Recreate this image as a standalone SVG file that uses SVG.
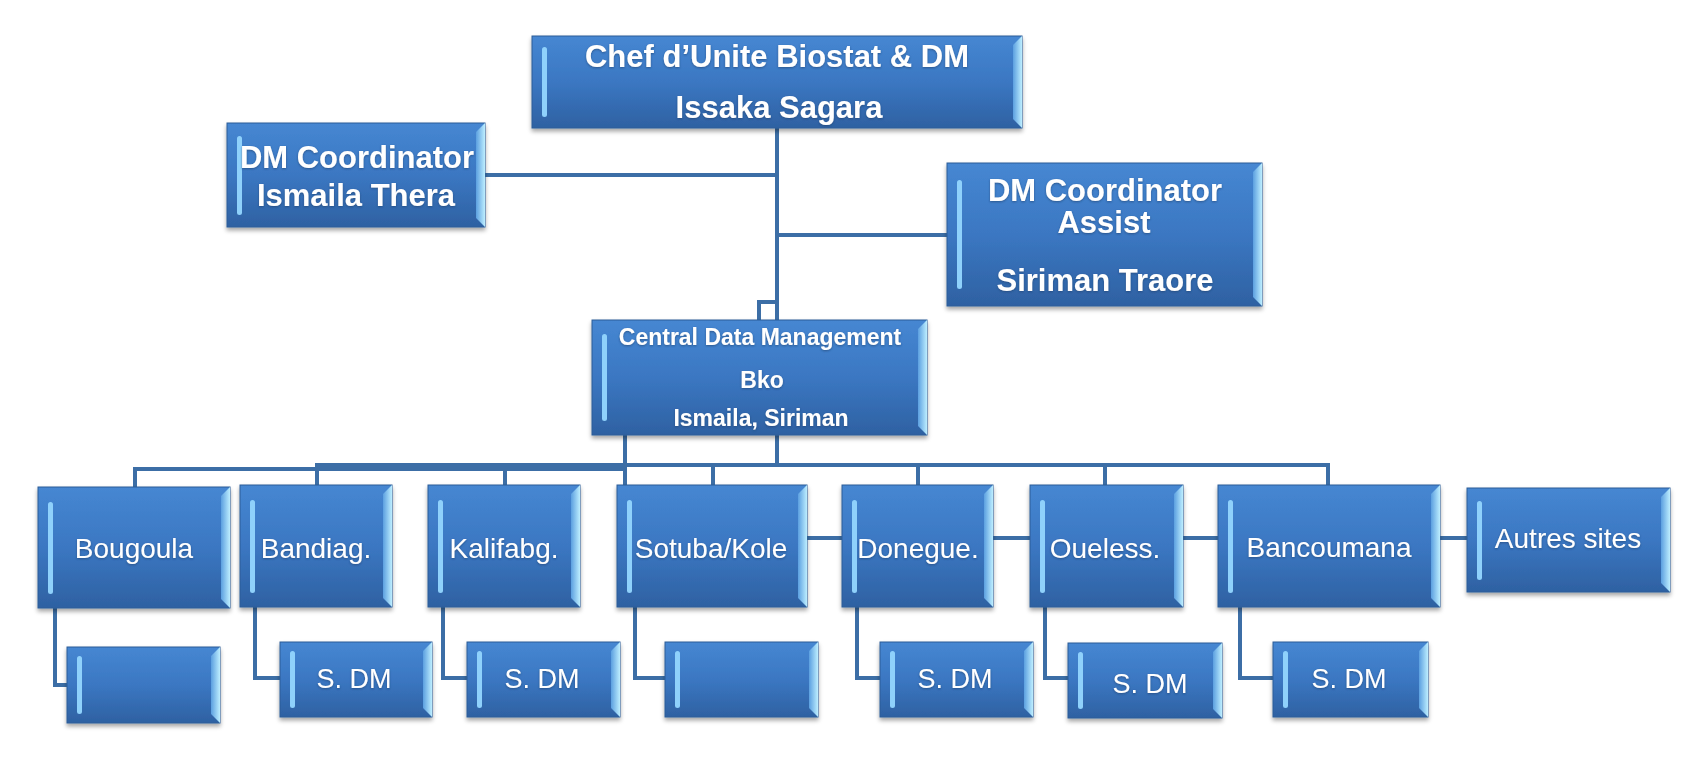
<svg xmlns="http://www.w3.org/2000/svg" width="1702" height="762" viewBox="0 0 1702 762">
<defs>
<linearGradient id="fill" x1="0" y1="0" x2="0" y2="1">
<stop offset="0" stop-color="#4687d2"/>
<stop offset="0.5" stop-color="#3b77c2"/>
<stop offset="1" stop-color="#2e61a2"/>
</linearGradient>
<linearGradient id="bev" x1="0" y1="0" x2="1" y2="0">
<stop offset="0" stop-color="#5b9fe0"/>
<stop offset="1" stop-color="#bdeeff"/>
</linearGradient>
<filter id="sh" x="-10%" y="-10%" width="120%" height="130%">
<feDropShadow dx="0" dy="3" stdDeviation="2" flood-color="#000" flood-opacity="0.35"/>
</filter>
<filter id="tsh" x="-10%" y="-20%" width="120%" height="140%">
<feDropShadow dx="0" dy="1" stdDeviation="1" flood-color="#1a3a66" flood-opacity="0.6"/>
</filter>
</defs>
<style>
.box{fill:url(#fill);stroke:#2d5c98;stroke-width:1;filter:url(#sh)}
.hl{fill:#8fd1fb}
.bv{fill:url(#bev)}
.t{fill:#ffffff;font-family:"Liberation Sans",Arial,sans-serif;text-anchor:middle;dominant-baseline:central;filter:url(#tsh)}
.t1{font-size:31px;font-weight:bold}
.t2{font-size:23px;font-weight:bold}
.t3{font-size:28px}
.t4{font-size:27px}
.c{fill:none;stroke:#3c6ea6;stroke-width:4}
</style>
<rect width="1702" height="762" fill="#ffffff"/>

<g id="connectors">
<path class="c" d="M777 128 V320"/>
<path class="c" d="M485 175 H777"/>
<path class="c" d="M777 235 H947"/>
<path class="c" d="M777 302 H759 V320"/>
<path class="c" d="M625 435 V485"/>
<path class="c" d="M777 435 V465"/>
<path class="c" d="M135 487 V469 H625"/>
<path class="c" d="M317 485 V465 H1328 V485"/>
<path class="c" d="M505 465 V485"/>
<path class="c" d="M713 465 V485"/>
<path class="c" d="M918 465 V485"/>
<path class="c" d="M1105 465 V485"/>
<path class="c" d="M807 538 H842"/>
<path class="c" d="M993 538 H1030"/>
<path class="c" d="M1183 538 H1218"/>
<path class="c" d="M1440 538 H1467"/>
<path class="c" d="M55 608 V685 H67"/>
<path class="c" d="M255 607 V678 H280"/>
<path class="c" d="M443 607 V678 H467"/>
<path class="c" d="M635 607 V678 H665"/>
<path class="c" d="M857 607 V678 H880"/>
<path class="c" d="M1045 607 V678 H1068"/>
<path class="c" d="M1240 607 V678 H1273"/>
</g>

<g id="node-chef">
<rect class="box" x="532" y="36" width="490" height="92"/>
<rect class="hl" x="542" y="47" width="5" height="70" rx="2.5"/>
<polygon class="bv" points="1013,45 1022,36 1022,128 1013,119"/>
<text class="t t1" x="777" y="56">Chef d’Unite Biostat &amp; DM</text>
<text class="t t1" x="779" y="107">Issaka Sagara</text>
</g>

<g id="node-coord">
<rect class="box" x="227" y="123" width="258" height="104"/>
<rect class="hl" x="237" y="136" width="5" height="79" rx="2.5"/>
<polygon class="bv" points="476,132 485,123 485,227 476,218"/>
<text class="t t1" x="357" y="157">DM Coordinator</text>
<text class="t t1" x="356" y="195">Ismaila Thera</text>
</g>

<g id="node-assist">
<rect class="box" x="947" y="163" width="315" height="143"/>
<rect class="hl" x="957" y="180" width="5" height="109" rx="2.5"/>
<polygon class="bv" points="1253,172 1262,163 1262,306 1253,297"/>
<text class="t t1" x="1105" y="190">DM Coordinator</text>
<text class="t t1" x="1104" y="222">Assist</text>
<text class="t t1" x="1105" y="280">Siriman Traore</text>
</g>

<g id="node-central">
<rect class="box" x="592" y="320" width="335" height="115"/>
<rect class="hl" x="602" y="334" width="5" height="87" rx="2.5"/>
<polygon class="bv" points="918,329 927,320 927,435 918,426"/>
<text class="t t2" x="760" y="337">Central Data Management</text>
<text class="t t2" x="762" y="380">Bko</text>
<text class="t t2" x="761" y="418">Ismaila, Siriman</text>
</g>

<g id="node-bougoula">
<rect class="box" x="38" y="487" width="192" height="121"/>
<rect class="hl" x="48" y="502" width="5" height="92" rx="2.5"/>
<polygon class="bv" points="221,496 230,487 230,608 221,599"/>
<text class="t t3" x="134" y="548">Bougoula</text>
</g>

<g id="node-bandiag">
<rect class="box" x="240" y="485" width="152" height="122"/>
<rect class="hl" x="250" y="500" width="5" height="93" rx="2.5"/>
<polygon class="bv" points="383,494 392,485 392,607 383,598"/>
<text class="t t3" x="316" y="548">Bandiag.</text>
</g>

<g id="node-kalifabg">
<rect class="box" x="428" y="485" width="152" height="122"/>
<rect class="hl" x="438" y="500" width="5" height="93" rx="2.5"/>
<polygon class="bv" points="571,494 580,485 580,607 571,598"/>
<text class="t t3" x="504" y="548">Kalifabg.</text>
</g>

<g id="node-sotuba">
<rect class="box" x="617" y="485" width="190" height="122"/>
<rect class="hl" x="627" y="500" width="5" height="93" rx="2.5"/>
<polygon class="bv" points="798,494 807,485 807,607 798,598"/>
<text class="t t3" x="711" y="548">Sotuba/Kole</text>
</g>

<g id="node-donegue">
<rect class="box" x="842" y="485" width="151" height="122"/>
<rect class="hl" x="852" y="500" width="5" height="93" rx="2.5"/>
<polygon class="bv" points="984,494 993,485 993,607 984,598"/>
<text class="t t3" x="918" y="548">Donegue.</text>
</g>

<g id="node-oueless">
<rect class="box" x="1030" y="485" width="153" height="122"/>
<rect class="hl" x="1040" y="500" width="5" height="93" rx="2.5"/>
<polygon class="bv" points="1174,494 1183,485 1183,607 1174,598"/>
<text class="t t3" x="1105" y="548">Oueless.</text>
</g>

<g id="node-bancoumana">
<rect class="box" x="1218" y="485" width="222" height="122"/>
<rect class="hl" x="1228" y="500" width="5" height="93" rx="2.5"/>
<polygon class="bv" points="1431,494 1440,485 1440,607 1431,598"/>
<text class="t t3" x="1329" y="547">Bancoumana</text>
</g>

<g id="node-autres">
<rect class="box" x="1467" y="488" width="203" height="104"/>
<rect class="hl" x="1477" y="501" width="5" height="79" rx="2.5"/>
<polygon class="bv" points="1661,497 1670,488 1670,592 1661,583"/>
<text class="t t3" x="1568" y="538">Autres sites</text>
</g>

<g id="node-bougoula-sub">
<rect class="box" x="67" y="647" width="153" height="76"/>
<rect class="hl" x="77" y="656" width="5" height="58" rx="2.5"/>
<polygon class="bv" points="211,656 220,647 220,723 211,714"/>
</g>

<g id="node-bandiag-sub">
<rect class="box" x="280" y="642" width="152" height="75"/>
<rect class="hl" x="290" y="651" width="5" height="57" rx="2.5"/>
<polygon class="bv" points="423,651 432,642 432,717 423,708"/>
<text class="t t4" x="354" y="679">S. DM</text>
</g>

<g id="node-kalifabg-sub">
<rect class="box" x="467" y="642" width="153" height="75"/>
<rect class="hl" x="477" y="651" width="5" height="57" rx="2.5"/>
<polygon class="bv" points="611,651 620,642 620,717 611,708"/>
<text class="t t4" x="542" y="679">S. DM</text>
</g>

<g id="node-sotuba-sub">
<rect class="box" x="665" y="642" width="153" height="75"/>
<rect class="hl" x="675" y="651" width="5" height="57" rx="2.5"/>
<polygon class="bv" points="809,651 818,642 818,717 809,708"/>
</g>

<g id="node-donegue-sub">
<rect class="box" x="880" y="642" width="153" height="75"/>
<rect class="hl" x="890" y="651" width="5" height="57" rx="2.5"/>
<polygon class="bv" points="1024,651 1033,642 1033,717 1024,708"/>
<text class="t t4" x="955" y="679">S. DM</text>
</g>

<g id="node-oueless-sub">
<rect class="box" x="1068" y="643" width="154" height="75"/>
<rect class="hl" x="1078" y="652" width="5" height="57" rx="2.5"/>
<polygon class="bv" points="1213,652 1222,643 1222,718 1213,709"/>
<text class="t t4" x="1150" y="684">S. DM</text>
</g>

<g id="node-bancoumana-sub">
<rect class="box" x="1273" y="642" width="155" height="75"/>
<rect class="hl" x="1283" y="651" width="5" height="57" rx="2.5"/>
<polygon class="bv" points="1419,651 1428,642 1428,717 1419,708"/>
<text class="t t4" x="1349" y="679">S. DM</text>
</g>
</svg>
